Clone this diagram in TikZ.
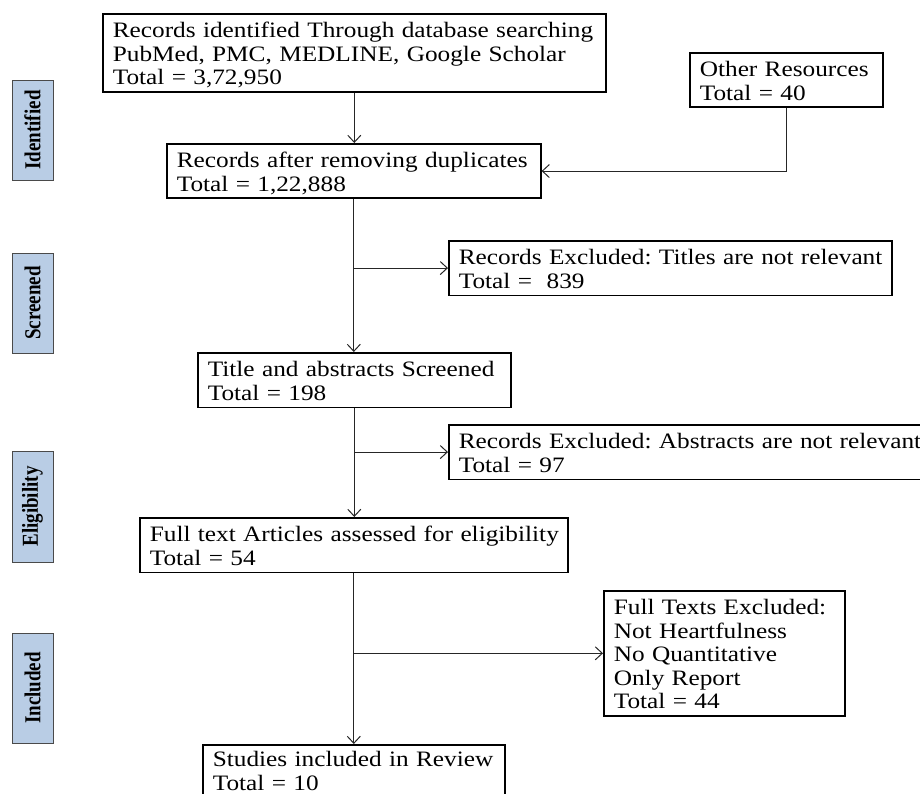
\documentclass[tikz,border=0pt]{standalone}
\usepackage{fontspec}
\setmainfont[FakeStretch=1.15]{Liberation Serif}
\newfontfamily\lblfont{Liberation Serif}
\usetikzlibrary{arrows.meta}
\definecolor{lblfill}{HTML}{B9CDE5}
\definecolor{lbldraw}{HTML}{4A4A4A}
\newcommand\topst{\rule{0pt}{24pt}}
\newcommand\botst{\rule[-7pt]{0pt}{7pt}}
\newcommand\lnbox[1]{\mbox{#1}}
\frenchspacing
\tikzset{
  box/.style={draw=black, line width=1.6pt, anchor=north west, align=left,
    inner xsep=10pt, inner ysep=0pt, font=\fontsize{22}{23.5}\selectfont\frenchspacing},
  lbl/.style={draw=lbldraw, line width=0.9pt, fill=lblfill, rotate=90,
    minimum height=41pt, inner sep=0pt, font=\lblfont\bfseries\fontsize{19}{20}\selectfont},
  arr/.style={draw=black!85, line width=1pt, -{Straight Barb[length=7pt,width=13pt]}}
}
\begin{document}
\begin{tikzpicture}[x=1pt,y=-1pt]
\useasboundingbox (0,0) rectangle (920,794);
\clip (0,0) rectangle (920,794);
% side labels
\node[lbl, minimum width=100pt] (l1) at (32.5,130) {\scalebox{1}[1.2]{Identified}};
\node[lbl, minimum width=100pt] (l2) at (32.5,303) {\scalebox{1}[1.2]{Screened}};
\node[lbl, minimum width=111pt] (l3) at (32.5,506.5) {\scalebox{1}[1.2]{Eligibility}};
\node[lbl, minimum width=110pt] (l4) at (32.5,688) {\scalebox{1}[1.2]{Included}};
% main boxes
\node[box, text width=483pt] (b1) at (102,13)
  {\topst\lnbox{Records identified Through database searching}\\\lnbox{PubMed, PMC, MEDLINE, Google Scholar}\\\lnbox{Total = 3,72,950}\botst};
\node[box, text width=173pt] (oth) at (689,52)
  {\topst\lnbox{Other Resources}\\\lnbox{Total = 40}\botst};
\node[box, text width=354pt] (b2) at (166,143)
  {\topst\lnbox{Records after removing duplicates}\\\lnbox{Total = 1,22,888}\botst};
\node[box, text width=423pt] (ex1) at (448,240)
  {\topst\lnbox{Records Excluded: Titles are not relevant}\\\lnbox{Total =\ \ 839}\botst};
\node[box, text width=293pt] (b3) at (197,352)
  {\topst\lnbox{Title and abstracts Screened}\\\lnbox{Total = 198}\botst};
\node[box, text width=454pt] (ex2) at (448,424)
  {\topst\lnbox{Records Excluded: Abstracts are not relevant}\\\lnbox{Total = 97}\botst};
\node[box, text width=408pt] (b4) at (139,517)
  {\topst\lnbox{Full text Articles assessed for eligibility}\\\lnbox{Total = 54}\botst};
\node[box, text width=221pt] (ex3) at (603,590)
  {\topst\lnbox{Full Texts Excluded:}\\\lnbox{Not Heartfulness}\\\lnbox{No Quantitative}\\\lnbox{Only Report}\\\lnbox{Total = 44}\botst};
\node[box, text width=282pt] (b5) at (202,744)
  {\rule{0pt}{22pt}\lnbox{Studies included in Review}\\\lnbox{Total = 10}\rule[-12pt]{0pt}{12pt}};
% connectors
\draw[arr] (b1.south) -- (b1.south |- b2.north);
\draw[arr] (oth.south) |- (b2.east);
\draw[arr] (b2.south) -- (b2.south |- b3.north);
\draw[arr] (b2.south |- ex1.west) -- (ex1.west);
\draw[arr] (b3.south) -- (b3.south |- b4.north);
\draw[arr] (b3.south |- ex2.west) -- (ex2.west);
\draw[arr] (b4.south) -- (b4.south |- b5.north);
\draw[arr] (b4.south |- ex3.west) -- (ex3.west);
\end{tikzpicture}
\end{document}
